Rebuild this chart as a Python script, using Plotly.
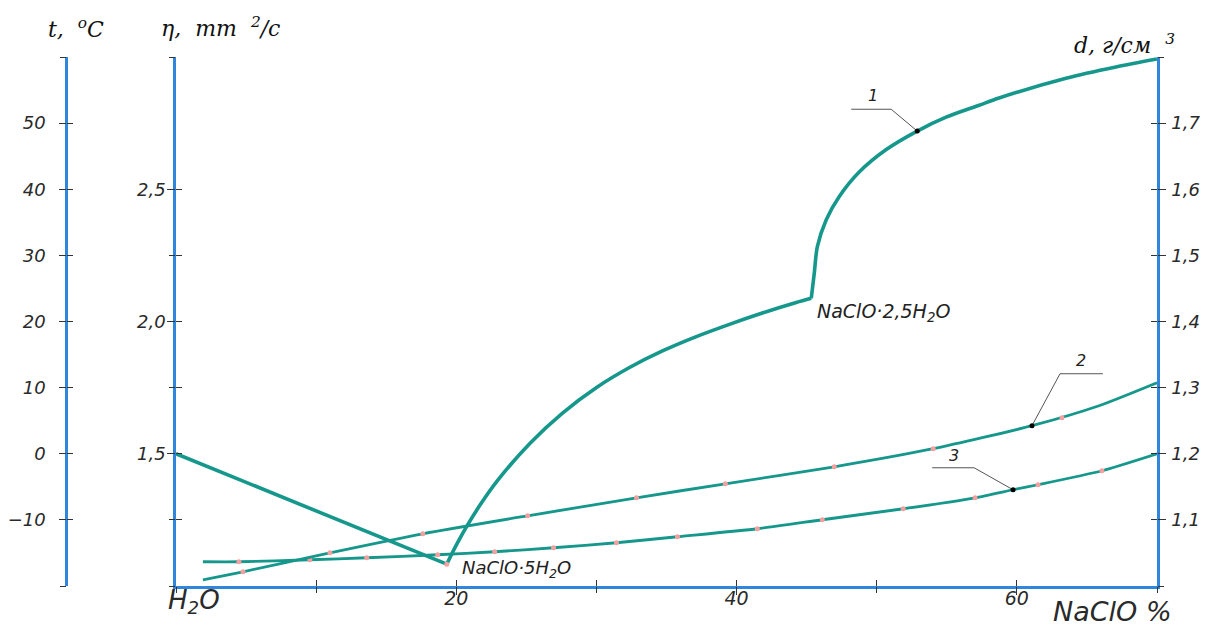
import plotly.graph_objects as go

# ---------------- data ----------------
# Curve 1: crystallisation temperature t (°C) vs NaClO %
c1_x = [0.0, 19.32, 19.96, 20.67, 21.67, 22.88, 25.23, 27.58, 30.01, 32.36, 34.71, 37.13, 39.49, 41.84, 44.26, 45.33,
        45.55, 45.76, 46.40, 47.33, 48.75, 50.68, 52.89, 54.95, 57.31, 58.73, 63.51, 67.07, 70.0]
c1_t = [0.0, -16.7, -13.98, -11.25, -7.84, -4.22, 1.53, 6.16, 10.03, 13.04, 15.55, 17.72, 19.57, 21.28, 22.87, 23.5,
        27.4, 31.3, 35.4, 38.9, 42.6, 46.0, 48.8, 50.9, 52.7, 53.8, 56.8, 58.5, 59.7]
EUT = 1      # index of eutectic point (NaClO·5H2O)
PER = 15     # index of peritectic point (NaClO·2,5H2O)

# Curve 2: density d (g/cm3)
c2_x = [1.92, 4.78, 10.98, 17.61, 25.09, 32.86, 39.20, 46.97, 54.03, 61.08, 65.86, 70.0]
c2_d = [1.0094, 1.0215, 1.0502, 1.0790, 1.1062, 1.1334, 1.1546, 1.1803, 1.2076, 1.2424, 1.2726, 1.3074]

# Curve 3: viscosity eta (mm2/s)
c3_x = [1.92, 4.49, 9.55, 13.61, 18.67, 22.74, 26.94, 31.43, 35.78, 41.48, 46.12, 51.89, 57.02, 59.73, 61.51, 66.07, 70.0]
c3_eta = [1.0917, 1.0917, 1.0992, 1.1068, 1.1181, 1.1295, 1.1446, 1.1635, 1.1862, 1.2164, 1.2505, 1.2921, 1.3336,
          1.3639, 1.3828, 1.4357, 1.5]

# small pink marks seen along the curves
p2_x = [4.78, 10.98, 17.61, 25.09, 32.86, 39.20, 46.97, 54.03, 63.22]
p2_d = [1.0215, 1.0502, 1.0790, 1.1062, 1.1334, 1.1546, 1.1803, 1.2076, 1.2545]
p3_x = [4.49, 9.55, 13.61, 18.67, 22.74, 26.94, 31.43, 35.78, 41.48, 46.12, 51.89, 57.02, 61.51, 66.07]
p3_eta = [1.0917, 1.0992, 1.1068, 1.1181, 1.1295, 1.1446, 1.1635, 1.1862, 1.2164, 1.2505, 1.2921, 1.3336, 1.3828, 1.4357]
p1_x = [19.32]
p1_t = [-16.7]

# leader lines for curve numbers
l1_x = [52.89, 51.03, 48.18]
l1_t = [48.8, 52.1, 52.1]
l2_x = [61.08, 63.08, 66.14]
l2_d = [1.2424, 1.321, 1.321]
l3_x = [59.73, 56.95, 53.96]
l3_eta = [1.3639, 1.447, 1.447]

# ticks (all tick marks) and labelled ticks
x_ticks = [0, 10, 20, 30, 40, 50, 60, 70]
x_lab = [20, 40, 60]
x_labtext = ["20", "40", "60"]
t_ticks = [-20, -10, 0, 10, 20, 30, 40, 50, 60]
t_lab = [-10, 0, 10, 20, 30, 40, 50]
t_labtext = ["\u221210", "0", "10", "20", "30", "40", "50"]
eta_ticks = [1.0, 1.25, 1.5, 1.75, 2.0, 2.25, 2.5, 3.0]
eta_lab = [1.5, 2.0, 2.5]
eta_labtext = ["1,5", "2,0", "2,5"]
d_ticks = [1.0, 1.1, 1.2, 1.3, 1.4, 1.5, 1.6, 1.7, 1.8]
d_lab = [1.1, 1.2, 1.3, 1.4, 1.5, 1.6, 1.7]
d_labtext = ["1,1", "1,2", "1,3", "1,4", "1,5", "1,6", "1,7"]

# ---------------- style ----------------
W, H = 1205, 628
TEAL = "#15978c"
BLUE = "#2f86dc"
TICKC = "#333333"
PINK = "#f3a0a0"
tickfont = dict(family="DejaVu Sans", size=18, color="#2a2a2a", style="italic")
titlefont = dict(family="DejaVu Serif", size=22, color="#111111", style="italic")
labfont = dict(family="DejaVu Sans", size=18, color="#222222", style="italic")
numfont = dict(family="DejaVu Sans", size=16, color="#222222", style="italic")

xdom = [176 / W, 1157 / W]
ydom = [(H - 586) / H, (H - 57) / H]
tpos = 66 / W

fig = go.Figure()

# curve 1 drawn in three pieces so the sharp corners stay sharp
fig.add_trace(go.Scatter(x=c1_x[:EUT + 1], y=c1_t[:EUT + 1], mode="lines",
                         line=dict(color=TEAL, width=3.6), xaxis="x", yaxis="y"))
fig.add_trace(go.Scatter(x=c1_x[EUT:PER + 1], y=c1_t[EUT:PER + 1], mode="lines",
                         line=dict(color=TEAL, width=3.6, shape="spline", smoothing=0.8), xaxis="x", yaxis="y"))
fig.add_trace(go.Scatter(x=c1_x[PER:], y=c1_t[PER:], mode="lines",
                         line=dict(color=TEAL, width=3.6, shape="spline", smoothing=0.8), xaxis="x", yaxis="y"))
fig.add_trace(go.Scatter(x=c2_x, y=c2_d, mode="lines", line=dict(color=TEAL, width=2.8, shape="spline", smoothing=0.6),
                         xaxis="x", yaxis="y5"))
fig.add_trace(go.Scatter(x=c3_x, y=c3_eta, mode="lines", line=dict(color=TEAL, width=2.8, shape="spline", smoothing=0.6),
                         xaxis="x", yaxis="y3"))

mk = dict(color=PINK, size=5, symbol="circle")
fig.add_trace(go.Scatter(x=p2_x, y=p2_d, mode="markers", marker=mk, xaxis="x", yaxis="y5"))
fig.add_trace(go.Scatter(x=p3_x, y=p3_eta, mode="markers", marker=mk, xaxis="x", yaxis="y3"))
fig.add_trace(go.Scatter(x=p1_x, y=p1_t, mode="markers", marker=mk, xaxis="x", yaxis="y"))

ld = dict(color="#555555", width=1)
fig.add_trace(go.Scatter(x=l1_x, y=l1_t, mode="lines", line=ld, xaxis="x", yaxis="y"))
fig.add_trace(go.Scatter(x=l2_x, y=l2_d, mode="lines", line=ld, xaxis="x", yaxis="y5"))
fig.add_trace(go.Scatter(x=l3_x, y=l3_eta, mode="lines", line=ld, xaxis="x", yaxis="y3"))
dot = dict(color="black", size=5)
fig.add_trace(go.Scatter(x=l1_x[:1], y=l1_t[:1], mode="markers", marker=dot, xaxis="x", yaxis="y"))
fig.add_trace(go.Scatter(x=l2_x[:1], y=l2_d[:1], mode="markers", marker=dot, xaxis="x", yaxis="y5"))
fig.add_trace(go.Scatter(x=l3_x[:1], y=l3_eta[:1], mode="markers", marker=dot, xaxis="x", yaxis="y3"))

# invisible traces so helper tick axes are drawn
for xa, ya in [("x2", "y"), ("x3", "y"), ("x", "y2"), ("x", "y4"), ("x", "y6"),
               ("x", "y7"), ("x", "y8"), ("x", "y9")]:
    fig.add_trace(go.Scatter(x=[None], y=[None], mode="lines", xaxis=xa, yaxis=ya, hoverinfo="skip"))

common_y = dict(showgrid=False, zeroline=False, fixedrange=True, domain=ydom, tickcolor=TICKC, tickwidth=1, ticklen=6)
helper_x = dict(domain=xdom, range=[0, 70], anchor="y", overlaying="x", showgrid=False, zeroline=False,
                showline=False, tickmode="array", tickvals=x_ticks, ticklen=6,
                tickcolor=TICKC, tickwidth=1, showticklabels=False)

fig.update_layout(
    width=W, height=H,
    margin=dict(l=0, r=0, t=0, b=0),
    paper_bgcolor="white", plot_bgcolor="white",
    showlegend=False,
    # main axes carry the lines and the labels
    xaxis=dict(domain=xdom, range=[0, 70], anchor="y", showgrid=False, zeroline=False,
               showline=True, linecolor=BLUE, linewidth=2.5,
               tickmode="array", tickvals=x_lab, ticktext=x_labtext, ticks="outside",
               ticklen=6, tickcolor=TICKC, tickwidth=1, tickfont=dict(tickfont, size=19),
               ticklabelstandoff=-13),
    xaxis2=dict(helper_x, ticks="inside"),
    xaxis3=dict(helper_x, ticks="outside"),
    yaxis=dict(common_y, range=[-20, 60], anchor="free", position=tpos, side="left",
               showline=True, linecolor=BLUE, linewidth=2.5,
               tickmode="array", tickvals=t_lab, ticktext=t_labtext, ticks="outside",
               tickfont=tickfont, ticklabelstandoff=10),
    yaxis2=dict(common_y, range=[-20, 60], anchor="free", position=tpos, side="left", overlaying="y",
                showline=False, tickmode="array", tickvals=t_ticks, ticks="inside", showticklabels=False),
    yaxis7=dict(common_y, range=[-20, 60], anchor="free", position=tpos, side="left", overlaying="y",
                showline=False, tickmode="array", tickvals=t_ticks, ticks="outside", showticklabels=False),
    yaxis3=dict(common_y, range=[1.0, 3.0], anchor="x", side="left", overlaying="y",
                showline=True, linecolor=BLUE, linewidth=2.5,
                tickmode="array", tickvals=eta_lab, ticktext=eta_labtext, ticks="outside",
                tickfont=tickfont, ticklabelstandoff=-2),
    yaxis4=dict(common_y, range=[1.0, 3.0], anchor="x", side="left", overlaying="y",
                showline=False, tickmode="array", tickvals=eta_ticks, ticks="inside", showticklabels=False),
    yaxis8=dict(common_y, range=[1.0, 3.0], anchor="x", side="left", overlaying="y",
                showline=False, tickmode="array", tickvals=eta_ticks, ticks="outside", showticklabels=False),
    yaxis5=dict(common_y, range=[1.0, 1.8], anchor="x", side="right", overlaying="y",
                showline=True, linecolor=BLUE, linewidth=2.5,
                tickmode="array", tickvals=d_lab, ticktext=d_labtext, ticks="outside",
                tickfont=tickfont, ticklabelstandoff=2),
    yaxis6=dict(common_y, range=[1.0, 1.8], anchor="x", side="right", overlaying="y",
                showline=False, tickmode="array", tickvals=d_ticks, ticks="inside", showticklabels=False),
    yaxis9=dict(common_y, range=[1.0, 1.8], anchor="x", side="right", overlaying="y",
                showline=False, tickmode="array", tickvals=d_ticks, ticks="outside", showticklabels=False),
)

NB = "\u00a0"
ann = []
# axis titles
ann.append(dict(text="t," + NB + NB + "<sup>o</sup>C", x=76 / W, y=1 - 28 / H, xref="paper", yref="paper",
                showarrow=False, font=titlefont, xanchor="center", yanchor="middle"))
ann.append(dict(text="\u03b7," + NB + NB + "mm" + NB + NB + "<sup>2</sup>/c", x=220 / W, y=1 - 27 / H,
                xref="paper", yref="paper", showarrow=False, font=titlefont, xanchor="center", yanchor="middle"))
ann.append(dict(text="d," + NB + "\u0433/\u0441\u043c" + NB + NB + "<sup>3</sup>", x=1124 / W, y=1 - 44 / H,
                xref="paper", yref="paper", showarrow=False, font=titlefont, xanchor="center", yanchor="middle"))
# x-axis end labels
ann.append(dict(text="H<sub>2</sub>O", x=194 / W, y=1 - 601 / H, xref="paper", yref="paper",
                showarrow=False, font=dict(tickfont, size=26), xanchor="center", yanchor="middle"))
ann.append(dict(text="NaClO" + NB + "%", x=1112 / W, y=1 - 611 / H, xref="paper", yref="paper",
                showarrow=False, font=dict(tickfont, size=27), xanchor="center", yanchor="middle"))
# compound labels
ann.append(dict(text="NaClO\u00b75H<sub>2</sub>O", x=20.3, y=-17.4, xref="x", yref="y",
                showarrow=False, font=labfont, xanchor="left", yanchor="middle"))
ann.append(dict(text="NaClO\u00b72,5H<sub>2</sub>O", x=45.6, y=21.4, xref="x", yref="y",
                showarrow=False, font=dict(labfont, size=19), xanchor="left", yanchor="middle"))
# curve numbers
ann.append(dict(text="1", x=49.7, y=52.4, xref="x", yref="y", showarrow=False, font=numfont,
                xanchor="center", yanchor="bottom"))
ann.append(dict(text="2", x=64.6, y=1.323, xref="x", yref="y5", showarrow=False, font=numfont,
                xanchor="center", yanchor="bottom"))
ann.append(dict(text="3", x=55.5, y=1.449, xref="x", yref="y3", showarrow=False, font=numfont,
                xanchor="center", yanchor="bottom"))
fig.update_layout(annotations=ann)

fig.write_html("out.html", config={"displayModeBar": False},
               post_script="document.body.style.margin='0px';document.body.style.overflow='hidden';")
